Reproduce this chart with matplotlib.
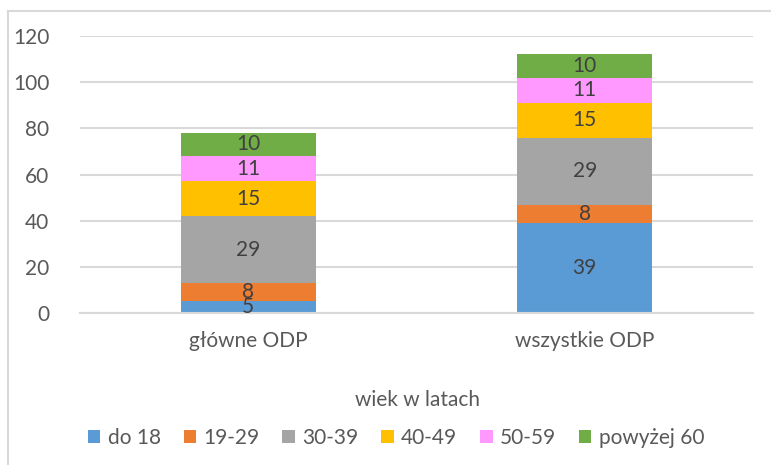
import numpy as np
import matplotlib
matplotlib.use('Agg')
import matplotlib.pyplot as plt
from matplotlib.lines import Line2D

plt.rcParams['font.family'] = ['Lato', 'DejaVu Sans']

#%% data
categories = ['główne ODP', 'wszystkie ODP']
series_names = ['do 18', '19-29', '30-39', '40-49', '50-59', 'powyżej 60']
do_18 = [5, 39]
age_19_29 = [8, 8]
age_30_39 = [29, 29]
age_40_49 = [15, 15]
age_50_59 = [11, 11]
age_60_plus = [10, 10]
yticks = [0, 20, 40, 60, 80, 100, 120]

colors = ['#5B9BD5', '#ED7D31', '#A5A5A5', '#FFC000', '#FF99FF', '#70AD47']
txt_grey = '#595959'
fs = 15

#%% plot
fig = plt.figure(figsize=(7.71, 4.65), dpi=100)
ax = fig.add_axes([80/771, 1-313/465, 673/771, 277/465])

x = np.arange(len(categories))
bottom = np.zeros(len(categories))
all_series = [do_18, age_19_29, age_30_39, age_40_49, age_50_59, age_60_plus]
for name, vals, c in zip(series_names, all_series, colors):
    vals = np.array(vals, dtype=float)
    bars = ax.bar(x, vals, width=0.4, bottom=bottom, color=c, label=name, zorder=2)
    ax.bar_label(bars, labels=[str(int(v)) for v in vals], label_type='center',
                 fontsize=fs, color='#404040')
    bottom += vals

ax.set_xlim(-0.5, 1.5)
ax.set_ylim(0, 120)
ax.set_yticks(yticks)
ax.set_xticks(x)
ax.set_xticklabels(categories)
ax.yaxis.grid(True, color='#D9D9D9', linewidth=1.5, zorder=0)
ax.set_axisbelow(True)
for s in ['top', 'right', 'left']:
    ax.spines[s].set_visible(False)
ax.spines['bottom'].set_color('#D9D9D9')
ax.spines['bottom'].set_linewidth(1.5)
ax.tick_params(axis='both', length=0, labelsize=fs, labelcolor=txt_grey)
ax.tick_params(axis='y', pad=22)
ax.tick_params(axis='x', pad=13)

fig.text(418/771, 1-400/465, 'wiek w latach', ha='center', va='center',
         fontsize=fs, color=txt_grey)
leg = fig.legend(loc='center', bbox_to_anchor=(396/771, 1-438/465), ncol=6,
                 frameon=False, fontsize=fs, handlelength=0.6, handleheight=0.6,
                 handletextpad=0.35, columnspacing=1.1)
for t in leg.get_texts():
    t.set_color(txt_grey)

# chart border (left and top visible)
fig.add_artist(Line2D([8/771, 8/771], [0, 1-11/465], color='#D9D9D9', linewidth=1.5))
fig.add_artist(Line2D([8/771, 1], [1-11/465, 1-11/465], color='#D9D9D9', linewidth=1.5))

fig.savefig('out.png', dpi=100)
